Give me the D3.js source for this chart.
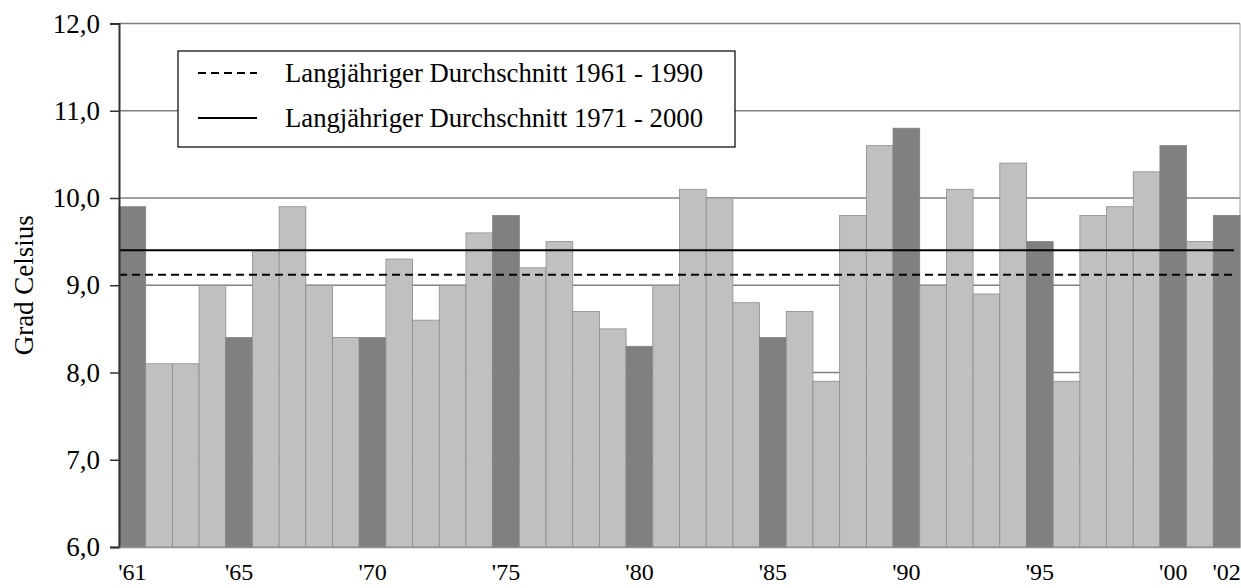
<!DOCTYPE html>
<html lang="de">
<head>
<meta charset="utf-8">
<title>Jahresmitteltemperatur</title>
<script src="https://cdn.jsdelivr.net/npm/d3@7"></script>
<style>
  body { margin: 0; background: #fff; }
  svg text { font-family: "Liberation Serif", "Times New Roman", serif; fill: #000; }
</style>
</head>
<body>
<svg id="chart" width="1241" height="588"></svg>
<script>
// Jahre 1961 - 2002
var years = d3.range(1961, 2003);
var temps = [9.9, 8.1, 8.1, 9.0, 8.4, 9.4, 9.9, 9.0, 8.4, 8.4,
             9.3, 8.6, 9.0, 9.6, 9.8, 9.2, 9.5, 8.7, 8.5, 8.3,
             9.0, 10.1, 10.0, 8.8, 8.4, 8.7, 7.9, 9.8, 10.6, 10.8,
             9.0, 10.1, 8.9, 10.4, 9.5, 7.9, 9.8, 9.9, 10.3, 10.6,
             9.5, 9.8];
var labelYears = [1961, 1965, 1970, 1975, 1980, 1985, 1990, 1995, 2000, 2002];
var yTicks = [6, 7, 8, 9, 10, 11, 12];
var avg6190 = 9.12;
var avg7100 = 9.4;
var legendLabels = ["Langjähriger Durchschnitt 1961 - 1990", "Langjähriger Durchschnitt 1971 - 2000"];

var margin = {top: 23.5, right: 1, bottom: 41, left: 119};
var svg = d3.select("#chart");
var W = +svg.attr("width") - margin.left - margin.right;
var H = +svg.attr("height") - margin.top - margin.bottom;
var g = svg.append("g").attr("transform", "translate(" + margin.left + "," + margin.top + ")");

var x = d3.scaleBand().domain(years).range([0, W]).padding(0);
var y = d3.scaleLinear().domain([6, 12]).range([H, 0]);
var fmt = function(d) { return d3.format(".1f")(d).replace(".", ","); };

// gridlines
g.append("g").selectAll("line").data(yTicks.slice(1)).enter().append("line")
  .attr("x1", 0).attr("x2", W)
  .attr("y1", function(d){ return y(d); }).attr("y2", function(d){ return y(d); })
  .attr("stroke", "#808080").attr("stroke-width", 1.5);

// right border
g.append("line").attr("x1", W).attr("x2", W).attr("y1", 0).attr("y2", H)
  .attr("stroke", "#a0a0a0").attr("stroke-width", 1);

// bars
g.append("g").selectAll("rect").data(years).enter().append("rect")
  .attr("x", function(d){ return x(d); })
  .attr("width", x.bandwidth())
  .attr("y", function(d, i){ return y(temps[i]); })
  .attr("height", function(d, i){ return H - y(temps[i]); })
  .attr("fill", function(d){ return labelYears.indexOf(d) >= 0 ? "#808080" : "#c0c0c0"; })
  .attr("stroke", function(d){ return labelYears.indexOf(d) >= 0 ? "#808080" : "#8c8c8c"; })
  .attr("stroke-width", 0.8);

// average lines
var lineEnd = W - 6;
g.append("line").attr("x1", 0).attr("x2", lineEnd)
  .attr("y1", y(avg6190)).attr("y2", y(avg6190))
  .attr("stroke", "#000").attr("stroke-width", 2).attr("stroke-dasharray", "8,5");
g.append("line").attr("x1", 0).attr("x2", lineEnd)
  .attr("y1", y(avg7100)).attr("y2", y(avg7100))
  .attr("stroke", "#000").attr("stroke-width", 2);

// y axis
var yAxis = g.append("g")
  .call(d3.axisLeft(y).tickValues(yTicks).tickFormat(fmt).tickSize(9).tickPadding(10));
yAxis.select(".domain").attr("stroke", "#333").attr("stroke-width", 2);
yAxis.selectAll(".tick line").attr("stroke", "#333").attr("stroke-width", 1.5);
yAxis.selectAll("text").attr("font-size", 27).attr("font-family", "Liberation Serif");

// x axis
var xAxis = g.append("g").attr("transform", "translate(0," + H + ")")
  .call(d3.axisBottom(x).tickValues(labelYears)
    .tickFormat(function(d){ return "'" + String(d).slice(2); })
    .tickSize(0).tickPadding(16));
xAxis.select(".domain").attr("stroke", "#909090").attr("stroke-width", 1.5);
xAxis.selectAll("text").attr("font-size", 24).attr("font-family", "Liberation Serif");

// y title
svg.append("text")
  .attr("transform", "translate(33," + (margin.top + H / 2) + ") rotate(-90)")
  .attr("text-anchor", "middle")
  .attr("font-size", 27)
  .text("Grad Celsius");

// legend
var leg = svg.append("g").attr("transform", "translate(178,51)");
leg.append("rect").attr("width", 557).attr("height", 96)
  .attr("fill", "#fff").attr("stroke", "#000").attr("stroke-width", 1.2);
legendLabels.forEach(function(t, i) {
  var ly = 22 + i * 45;
  leg.append("line").attr("x1", 20).attr("x2", 79).attr("y1", ly).attr("y2", ly)
    .attr("stroke", "#000").attr("stroke-width", 2)
    .attr("stroke-dasharray", i === 0 ? "8,5" : null);
  leg.append("text").attr("x", 107).attr("y", ly + 9)
    .attr("font-size", 26.7).text(t);
});
</script>
</body>
</html>
